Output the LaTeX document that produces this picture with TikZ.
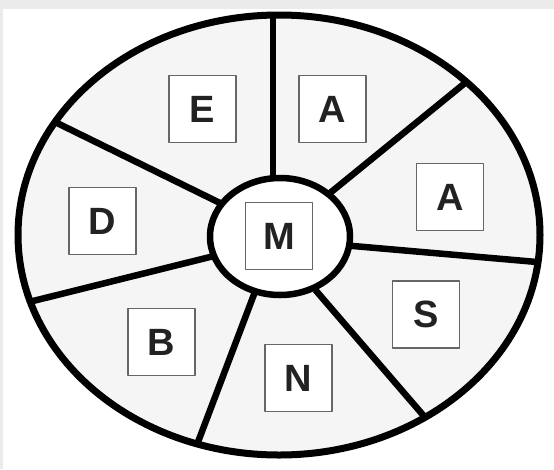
\documentclass[tikz,border=0pt]{standalone}
\usepackage{fontspec}
\setmainfont{Liberation Sans}
\definecolor{nen}{HTML}{F5F5F5}
\definecolor{vien}{HTML}{EBEBEB}
\definecolor{khung}{HTML}{666666}
\definecolor{chu}{HTML}{222222}
\begin{document}
\begin{tikzpicture}[x=1pt,y=-1pt,line join=round]
	\tikzset{o/.style={draw=khung,line width=1.5pt,fill=white,minimum size=67pt,inner sep=0pt,text=chu,font=\fontsize{38}{40}\selectfont\bfseries}}
	\tikzset{nan/.style={line width=6.5pt,shorten <=-4pt,shorten >=-4pt}}
	%%%Khung nen
	\fill[white](0,0)rectangle(554,469);
	\fill[vien](0,0)rectangle(554,8.5);
	\fill[vien](0,0)rectangle(3,469);
	\useasboundingbox(0,0)rectangle(554,469);
	%%%Hai elip
	\coordinate(O) at (279,235);
	\coordinate(I) at (280,236.5);
	\fill[nen](O) ellipse (261 and 220);
	%%%Cac nan
	\coordinate(n1) at (273,16);   \coordinate(t1) at (273,178);
	\coordinate(n2) at (465,83);   \coordinate(t2) at (330,193);
	\coordinate(n3) at (537,262);  \coordinate(t3) at (353,246);
	\coordinate(n4) at (423,415);  \coordinate(t4) at (318,293);
	\coordinate(n5) at (198,442);  \coordinate(t5) at (253,297);
	\coordinate(n6) at (33,301);   \coordinate(t6) at (210,257);
	\coordinate(n7) at (55,122);   \coordinate(t7) at (218,202);
	\begin{scope}
		\clip(O) ellipse (261 and 220);
		\foreach \i in{1,...,7}
		\draw[nan](t\i)--(n\i);
	\end{scope}
	\draw[line width=6.5pt,fill=white](I) ellipse (70 and 58.5);
	\draw[line width=7pt](O) ellipse (261 and 220);
	%%%Cac o chu
	\foreach \ten/\x/\y/\chu in{e/202.5/109/E,a/332.5/109/A,aa/450/197/A,s/426/314.5/S,n/298.5/378/N,b/161.5/342/B,d/102.5/221/D,m/279/236/M}
	\node[o](\ten) at (\x,\y){\chu};
\end{tikzpicture}
\end{document}
